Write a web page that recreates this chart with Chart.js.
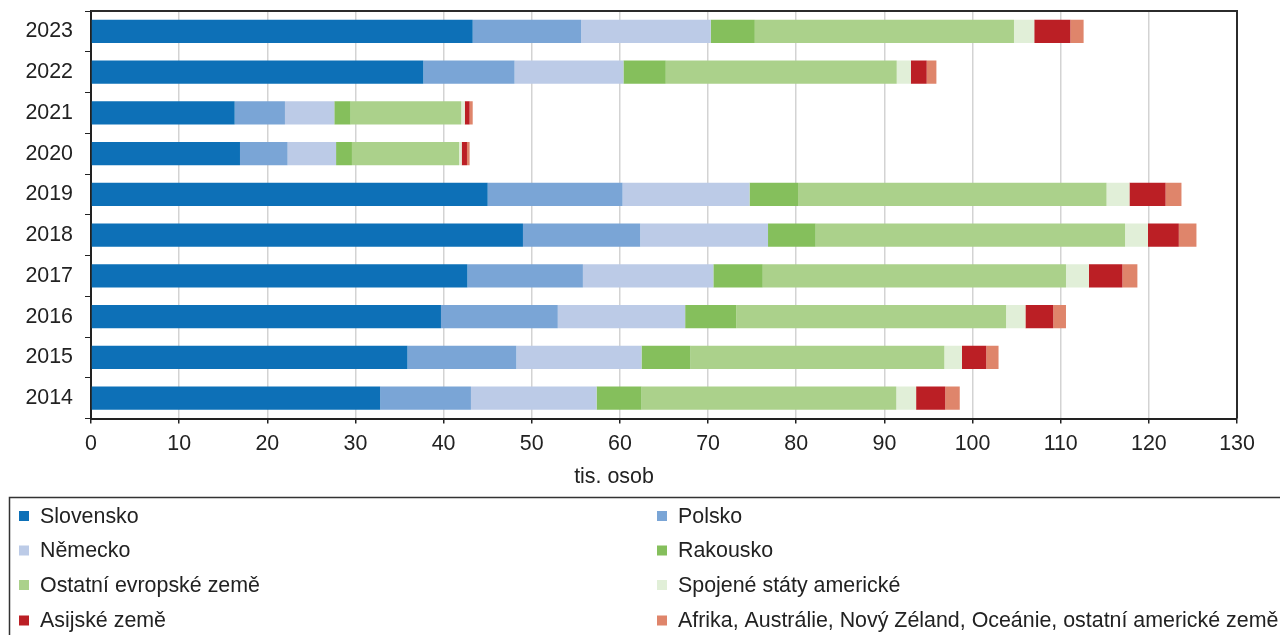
<!DOCTYPE html>
<html lang="cs">
<head>
<meta charset="utf-8">
<title>Hosté podle zemí původu</title>
<script src="https://cdn.jsdelivr.net/npm/chart.js@4/dist/chart.umd.min.js"></script>
<style>
  html, body { margin: 0; padding: 0; background: #fff; }
  #wrap { width: 1280px; height: 635px; }
</style>
</head>
<body>
<div id="wrap"><canvas id="c" width="1280" height="635"></canvas></div>
<script>
// Roky (kategorie) a hodnoty v tis. osob
const years = ['2014', '2015', '2016', '2017', '2018', '2019', '2020', '2021', '2022', '2023'];

const slovensko = [32.8, 35.9, 39.7, 42.7, 49.0, 45.0, 16.9, 16.3, 37.7, 43.3];
const polsko    = [10.3, 12.35, 13.25, 13.1, 13.3, 15.3, 5.4, 5.7, 10.35, 12.3];
const nemecko   = [14.25, 14.2, 14.45, 14.8, 14.5, 14.4, 5.5, 5.6, 12.35, 14.7];
const rakousko  = [5.1, 5.55, 5.8, 5.6, 5.4, 5.5, 1.8, 1.85, 4.8, 5.0];
const ostatniEvropske = [28.9, 28.8, 30.6, 34.4, 35.1, 35.0, 12.15, 12.55, 26.2, 29.4];
const usa       = [2.25, 2.0, 2.2, 2.6, 2.6, 2.6, 0.3, 0.4, 1.6, 2.3];
const asijske   = [3.3, 2.75, 3.15, 3.8, 3.5, 4.1, 0.6, 0.55, 1.8, 4.1];
const ostatni   = [1.65, 1.4, 1.45, 1.7, 2.0, 1.8, 0.3, 0.35, 1.1, 1.5];

const seriesNames = [
  'Slovensko', 'Polsko', 'Německo', 'Rakousko',
  'Ostatní evropské země', 'Spojené státy americké', 'Asijské země',
  'Afrika, Austrálie, Nový Zéland, Oceánie, ostatní americké země'
];
const seriesValues = [slovensko, polsko, nemecko, rakousko, ostatniEvropske, usa, asijske, ostatni];
const seriesColors = ['#0d70b7', '#7aa5d6', '#bccbe7', '#85bf5c', '#abd18b', '#e1efd8', '#bb1f25', '#df856b'];

const xTicks = { min: 0, max: 130, step: 10 };
const axisTitle = 'tis. osob';

const FONT = '"Liberation Sans", Arial, Helvetica, sans-serif';
const FONT_SIZE = 21.4;
const TEXT = '#222222';
Chart.defaults.font.family = FONT;
Chart.defaults.font.size = FONT_SIZE;
Chart.defaults.color = TEXT;

// Rámeček nahoře a vpravo, popis osy a legenda ve dvou sloupcích
const decorations = {
  id: 'decorations',
  afterDraw(chart) {
    const ctx = chart.ctx;
    const a = chart.chartArea;
    ctx.save();
    ctx.strokeStyle = '#2b2b2b';
    ctx.lineWidth = 2;
    ctx.beginPath();
    ctx.moveTo(a.left, a.top);
    ctx.lineTo(a.right, a.top);
    ctx.lineTo(a.right, a.bottom);
    ctx.stroke();

    ctx.fillStyle = TEXT;
    ctx.font = FONT_SIZE + 'px ' + FONT;
    ctx.textAlign = 'center';
    ctx.textBaseline = 'middle';
    ctx.fillText(axisTitle, 614, 477);

    // legenda
    ctx.strokeStyle = '#333333';
    ctx.lineWidth = 1.5;
    ctx.strokeRect(9.5, 497.5, 1290, 160);
    const colX = [19, 657];
    const rowY = [516, 550.5, 585, 620.5];
    ctx.textAlign = 'left';
    chart.data.datasets.forEach((ds, i) => {
      const x = colX[i % 2];
      const y = rowY[Math.floor(i / 2)];
      ctx.fillStyle = ds.backgroundColor;
      ctx.fillRect(x, y - 5, 10, 10);
      ctx.fillStyle = TEXT;
      ctx.fillText(ds.label, x + 21, y + 1);
    });
    ctx.restore();
  }
};

new Chart(document.getElementById('c'), {
  type: 'bar',
  data: {
    labels: years,
    datasets: seriesNames.map((name, i) => ({
      label: name,
      data: seriesValues[i],
      backgroundColor: seriesColors[i],
      borderWidth: 0,
      barPercentage: 0.572,
      categoryPercentage: 1.0
    }))
  },
  options: {
    indexAxis: 'y',
    responsive: false,
    animation: false,
    devicePixelRatio: 1,
    layout: { padding: { left: 0, top: 11, right: 43, bottom: 0 } },
    plugins: { legend: { display: false }, tooltip: { enabled: false } },
    scales: {
      y: {
        type: 'category',
        stacked: true,
        reverse: true,
        afterFit(s) { s.width = 91; s.paddingTop = 0; s.paddingBottom = 0; },
        grid: { drawOnChartArea: false, drawTicks: true, tickLength: 6, color: '#222', offset: true },
        border: { color: '#222', width: 2 },
        ticks: { padding: 12, color: TEXT, font: { size: FONT_SIZE } }
      },
      x: {
        type: 'linear',
        stacked: true,
        min: xTicks.min,
        max: xTicks.max,
        afterFit(s) { s.height = 216.5; s.paddingLeft = 0; s.paddingRight = 0; },
        grid: { color: '#d3d3d3', lineWidth: 1.5, tickColor: '#222', tickLength: 5, drawTicks: true },
        border: { color: '#222', width: 2 },
        ticks: { stepSize: xTicks.step, padding: 8, color: TEXT, font: { size: FONT_SIZE }, maxRotation: 0 }
      }
    }
  },
  plugins: [decorations]
});
</script>
</body>
</html>
